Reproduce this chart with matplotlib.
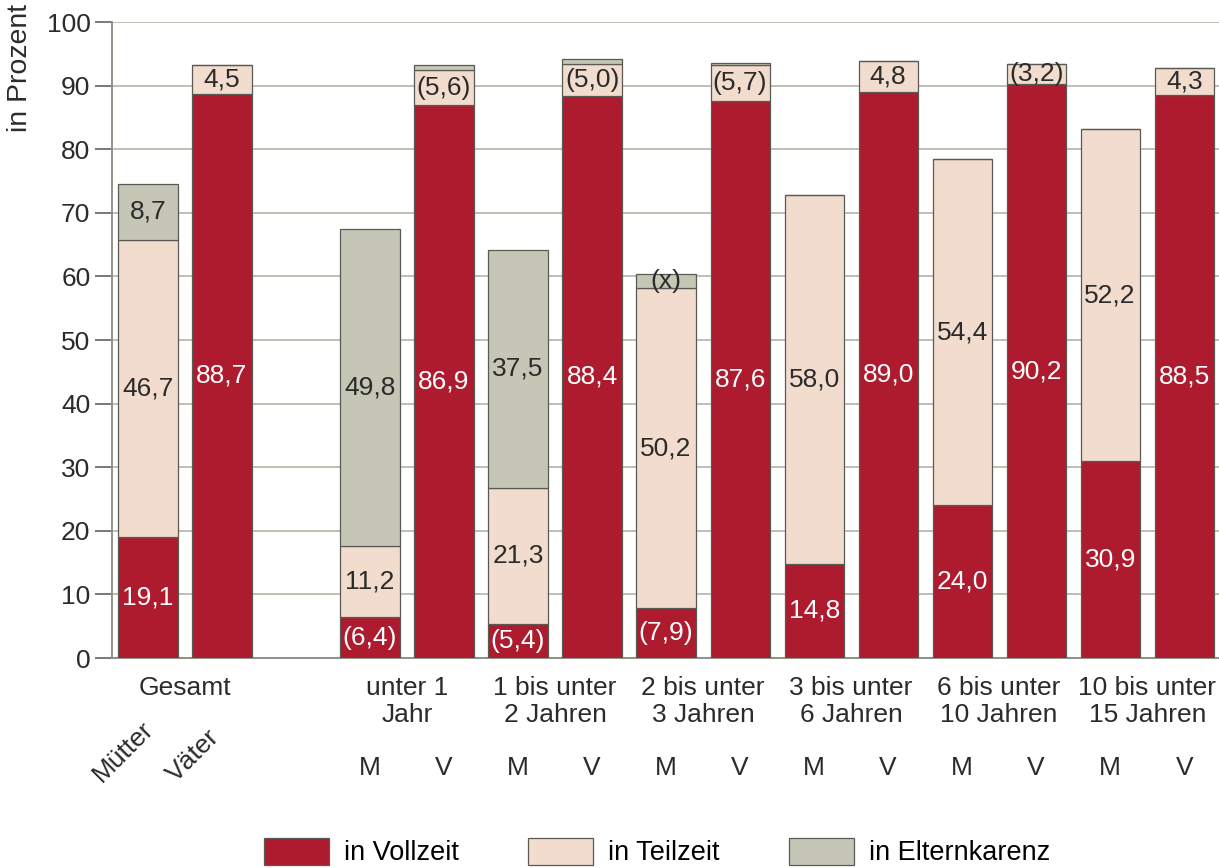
import matplotlib
matplotlib.use("Agg")
import matplotlib.pyplot as plt
import matplotlib.patches as patches
import numpy as np

plt.rcParams['font.family'] = ['Liberation Sans', 'DejaVu Sans']

# data
groups = ['Gesamt', 'unter 1\nJahr', '1 bis unter\n2 Jahren', '2 bis unter\n3 Jahren',
          '3 bis unter\n6 Jahren', '6 bis unter\n10 Jahren', '10 bis unter\n15 Jahren']
vollzeit = [19.1, 88.7, 6.4, 86.9, 5.4, 88.4, 7.9, 87.6, 14.8, 89.0, 24.0, 90.2, 30.9, 88.5]
teilzeit = [46.7, 4.5, 11.2, 5.6, 21.3, 5.0, 50.2, 5.7, 58.0, 4.8, 54.4, 3.2, 52.2, 4.3]
karenz = [8.7, 0.0, 49.8, 0.8, 37.5, 0.8, 2.2, 0.3, 0.0, 0.0, 0.0, 0.0, 0.0, 0.0]

vollzeit_lbl = ['19,1', '88,7', '(6,4)', '86,9', '(5,4)', '88,4', '(7,9)', '87,6',
                '14,8', '89,0', '24,0', '90,2', '30,9', '88,5']
teilzeit_lbl = ['46,7', '4,5', '11,2', '(5,6)', '21,3', '(5,0)', '50,2', '(5,7)',
                '58,0', '4,8', '54,4', '(3,2)', '52,2', '4,3']
karenz_lbl = ['8,7', '', '49,8', '', '37,5', '', '(x)', '', '', '', '', '', '', '']

series = ['in Vollzeit', 'in Teilzeit', 'in Elternkarenz']
colors = ['#ae1b2f', '#f2dccd', '#c5c6b5']
text_colors = ['white', '#2b2b2b', '#2b2b2b']

fs = 19
x = np.r_[0:2, 3:15]

fig = plt.figure(figsize=(12.19, 8.68), dpi=100)
ax = fig.add_axes([112 / 1219, 1 - 658 / 868, 1 - 112 / 1219, 636 / 868])

bottom = np.zeros(len(x))
for vals, lbls, col, tcol, name in zip([vollzeit, teilzeit, karenz],
                                       [vollzeit_lbl, teilzeit_lbl, karenz_lbl],
                                       colors, text_colors, series):
    vals = np.array(vals)
    ax.bar(x, vals, width=0.8, bottom=bottom, color=col, edgecolor='#5a5a55',
           linewidth=0.9, label=name, zorder=3)
    for xi, b, v, s in zip(x, bottom, vals, lbls):
        if s:
            ax.text(xi, b + v / 2, s, ha='center', va='center', fontsize=fs,
                    color=tcol, zorder=4)
    bottom = bottom + vals

ax.set_xlim(-0.486, 14.47)
ax.set_ylim(0, 100)
ax.set_yticks(np.arange(0, 101, 10))
ax.set_xticks([])
ax.tick_params(axis='y', length=12, width=1.1, color='#555555', pad=3.5,
               labelsize=fs, labelcolor='#2b2b2b')
ax.yaxis.grid(True, color='#b4b4a6', linewidth=1.2, zorder=0)
ax.set_axisbelow(True)
for s in ['top', 'right']:
    ax.spines[s].set_visible(False)
ax.spines['left'].set_color('#8a8a80')
ax.spines['left'].set_linewidth(1.3)
ax.spines['bottom'].set_color('#8a8a80')
ax.spines['bottom'].set_linewidth(1.3)

fig.text(20 / 1219, 1 - 4 / 868, 'in Prozent', rotation=90, ha='center', va='top',
         fontsize=20.5, color='#2b2b2b')

# category labels
trans = ax.get_xaxis_transform()
centers = [0.5] + [x[2 + 2 * i] + 0.5 for i in range(6)]
for c, g in zip(centers, groups):
    ax.text(c, -0.029, g, transform=trans, ha='center', va='top', fontsize=fs,
            color='#2b2b2b', linespacing=1.12)

for xi in x[2:]:
    lab = 'M' if (xi % 2 == 1) else 'V'
    ax.text(xi, -0.173, lab, transform=trans, ha='center', va='center',
            fontsize=fs, color='#2b2b2b')

for xi, lab in zip(x[:2], ['Mütter', 'Väter']):
    ax.annotate(lab, xy=(xi, -0.197), xycoords=trans, xytext=(-46, 0),
                textcoords='offset pixels', rotation=45, rotation_mode='anchor',
                ha='left', va='baseline', fontsize=fs, color='#2b2b2b')

handles = [patches.Patch(facecolor=c, edgecolor='#5a5a55', linewidth=0.9) for c in colors]
fig.legend(handles, series, loc='upper center', bbox_to_anchor=(0.539, 0.035),
           ncol=3, frameon=False, fontsize=19.5, handlelength=2.4, handleheight=1.15,
           handletextpad=0.55, columnspacing=2.55, borderpad=0, borderaxespad=0)

fig.savefig('out.png', dpi=100)
